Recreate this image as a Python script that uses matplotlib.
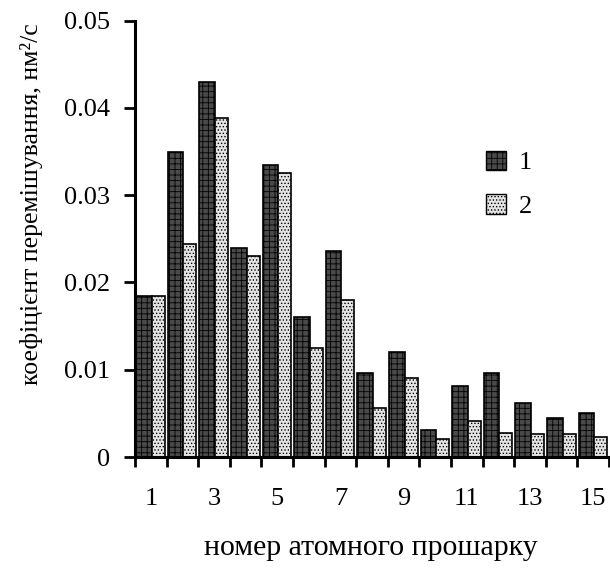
import numpy as np
import matplotlib.pyplot as plt
from matplotlib.patches import Patch

plt.rcParams['font.family'] = ['Liberation Serif', 'DejaVu Serif']
plt.rcParams['hatch.linewidth'] = 0.6

# номер атомного прошарку
layers = np.arange(1, 16)
# коефіцієнт перемішування, нм^2/с
series1 = [0.0185, 0.0350, 0.0430, 0.0240, 0.0335, 0.0160, 0.0236, 0.0096, 0.0120,
           0.0031, 0.0081, 0.0096, 0.0062, 0.0045, 0.0050]
series2 = [0.0185, 0.0244, 0.0389, 0.0230, 0.0325, 0.0125, 0.0180, 0.0056, 0.0090,
           0.0021, 0.0041, 0.0028, 0.0026, 0.0026, 0.0023]
xtick_labels = ['1', '3', '5', '7', '9', '11', '13', '15']

fig = plt.figure(figsize=(6.1, 5.74), dpi=100)
ax = fig.add_axes([135 / 610, 1 - 457 / 574, 474 / 610, (457 - 20.7) / 574])

ax.bar(layers - 0.46, series1, width=0.49, align='edge', color='#4a4a4a',
       edgecolor='black', hatch='+++', linewidth=1.2, zorder=2)
ax.bar(layers + 0.03, series2, width=0.41, align='edge', color='#e4e4e4',
       edgecolor='black', hatch='.....', linewidth=1.2, zorder=2)

ax.set_xlim(0.5, 15.5)
ax.set_ylim(0, 0.05)

# x: short ticks between groups, labels under every second group
ax.set_xticks(np.arange(0.5, 16, 1))
ax.set_xticklabels([])
ax.set_xticks(layers[::2], minor=True)
ax.set_xticklabels(xtick_labels, minor=True)
ax.tick_params(axis='x', which='major', direction='out', length=7, width=2)
ax.tick_params(axis='x', which='minor', length=0, pad=22, labelsize=19)

ax.set_yticks([0, 0.01, 0.02, 0.03, 0.04, 0.05])
ax.set_yticklabels(['0', '0.01', '0.02', '0.03', '0.04', '0.05'])
ax.tick_params(axis='y', direction='out', length=8, width=2, pad=10, labelsize=19)

for s in ['top', 'right']:
    ax.spines[s].set_visible(False)
for s in ['left', 'bottom']:
    ax.spines[s].set_linewidth(2.2)

ax.set_xlabel('номер атомного прошарку', fontsize=21.5)
ax.xaxis.set_label_coords(0.497, -0.178)
ax.set_ylabel('коефіцієнт перемішування, нм²/с', fontsize=18.5)
ax.yaxis.set_label_coords(-0.195, 0.58)

handles = [Patch(facecolor='#4a4a4a', edgecolor='black', hatch='+++', label='1'),
           Patch(facecolor='#e4e4e4', edgecolor='black', hatch='.....', label='2')]
ax.legend(handles=handles, loc='center left', bbox_to_anchor=(0.69, 0.625),
          frameon=False, fontsize=19, handlelength=0.75, handleheight=0.75,
          handletextpad=0.5, labelspacing=0.75)

fig.savefig('out.png', dpi=100)
